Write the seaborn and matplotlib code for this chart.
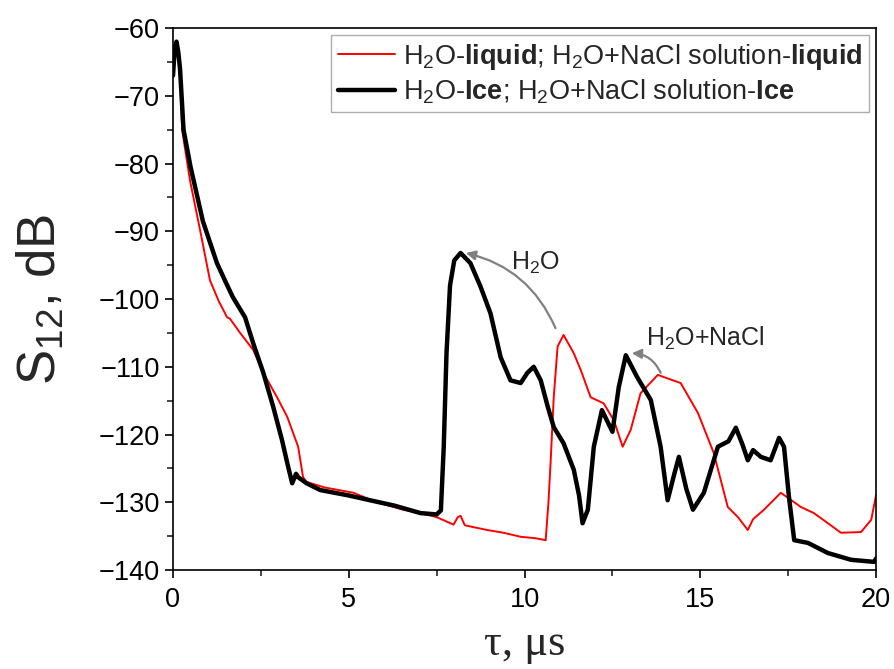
import numpy as np
import pandas as pd
import matplotlib
matplotlib.use('Agg')
import matplotlib.pyplot as plt
import seaborn as sns

# values (tau in us, S12 in dB)
tau_ice = [0, 0.05, 0.1, 0.15, 0.2, 0.3, 0.5, 0.85, 1.25, 1.5, 1.7, 2.05, 2.28, 2.57,
           2.85, 3.1, 3.25, 3.39, 3.5, 3.56, 3.8, 4.19, 5.0, 5.6, 6.3, 7.04, 7.5, 7.62,
           7.7, 7.78, 7.88, 8.0, 8.18, 8.46, 8.75, 9.03, 9.32, 9.6, 9.89, 10.08, 10.26,
           10.46, 10.66, 10.83, 11.11, 11.4, 11.55, 11.65, 11.8, 11.97, 12.2, 12.5,
           12.68, 12.88, 13.2, 13.59, 13.87, 14.07, 14.25, 14.39, 14.6, 14.79, 15.1,
           15.5, 15.8, 16.01, 16.2, 16.35, 16.5, 16.72, 17.0, 17.24, 17.38, 17.52,
           17.67, 18.06, 18.63, 19.29, 19.94, 20.0]
s12_ice = [-67, -63, -62, -63.5, -66, -75, -80.5, -88.5, -94.7, -97.5, -99.7, -102.7,
           -106.5, -110.9, -115.9, -120.8, -124.2, -127.2, -125.8, -126.3, -127.2,
           -128.2, -129, -129.7, -130.5, -131.6, -131.8, -131.2, -122, -108, -98,
           -94.3, -93.2, -94.7, -98.2, -102.1, -108.6, -112, -112.4, -110.9, -110,
           -112, -115.9, -118.9, -121.3, -125.2, -129, -133.1, -131.1, -121.8, -116.4,
           -119.6, -113, -108.3, -111.5, -114.9, -121.8, -129.7, -126, -123.3, -128,
           -131.1, -128.6, -121.8, -121, -119, -121.5, -123.8, -122.3, -123.3, -123.8,
           -120.5, -121.8, -129.2, -135.6, -136, -137.5, -138.5, -138.8, -138.3]

tau_liq = [0, 0.05, 0.1, 0.15, 0.2, 0.26, 0.48, 0.77, 1.05, 1.3, 1.54, 1.62, 1.91,
           2.28, 2.57, 2.96, 3.25, 3.56, 3.7, 3.8, 4.3, 5.13, 5.8, 6.55, 7.04, 7.5,
           7.98, 8.1, 8.18, 8.3, 8.94, 9.4, 9.89, 10.3, 10.6, 10.68, 10.74, 10.83,
           10.94, 11.11, 11.4, 11.6, 11.88, 12.25, 12.54, 12.79, 13.02, 13.3, 13.79,
           14.44, 14.93, 15.38, 15.78, 16.07, 16.35, 16.5, 16.81, 17.29, 17.86, 18.23,
           18.63, 19.0, 19.57, 19.86, 20.0]
s12_liq = [-66, -62.5, -62, -63, -67, -75, -82.4, -89.8, -97.2, -100.3, -102.7,
           -102.9, -105, -107.5, -110.9, -114.5, -117.4, -121.8, -126.3, -127, -127.8,
           -128.6, -130, -131.1, -131.6, -132.2, -133.3, -132.2, -132, -133.4, -134.1,
           -134.5, -135.1, -135.3, -135.6, -130, -124.2, -114.5, -107, -105.3, -108,
           -110.5, -114.5, -115.4, -117.9, -121.8, -119.3, -113.9, -111.2, -112.4,
           -116.8, -122.7, -130.7, -132.2, -134.1, -132.5, -131.1, -128.6, -130.7,
           -131.6, -133.1, -134.5, -134.4, -132.6, -128.9]

label_liq = r'H$_2$O-$\mathbf{liquid}$; H$_2$O+NaCl solution-$\mathbf{liquid}$'
label_ice = r'H$_2$O-$\mathbf{Ice}$; H$_2$O+NaCl solution-$\mathbf{Ice}$'

df_liq = pd.DataFrame({'tau': tau_liq, 's12': s12_liq})
df_ice = pd.DataFrame({'tau': tau_ice, 's12': s12_ice})

sns.set_style("ticks")
plt.rcParams['font.family'] = ['Liberation Sans', 'DejaVu Sans']
plt.rcParams['mathtext.fontset'] = 'custom'
plt.rcParams['mathtext.rm'] = 'Liberation Sans'
plt.rcParams['mathtext.it'] = 'Liberation Sans:italic'
plt.rcParams['mathtext.bf'] = 'Liberation Sans:bold'

fig = plt.figure(figsize=(8.94, 6.69), dpi=100)
ax = fig.add_axes([0.1935, 0.148, 0.7865, 0.81])

sns.lineplot(data=df_liq, x='tau', y='s12', color='#ff0000', lw=1.4,
             label=label_liq, ax=ax, sort=False)
sns.lineplot(data=df_ice, x='tau', y='s12', color='black', lw=3.2,
             label=label_ice, ax=ax, sort=False)

ax.set_xlim(0, 20)
ax.set_ylim(-140, -60)
ax.set_xticks([0, 5, 10, 15, 20])
ax.set_xticks([2.5, 7.5, 12.5, 17.5], minor=True)
ax.set_yticks(np.arange(-140, -59, 10))
ax.set_yticks(np.arange(-135, -60, 10), minor=True)
ax.tick_params(axis='both', which='major', direction='out', length=6, width=1.2,
               labelsize=19.5, colors='black')
ax.tick_params(axis='x', which='major', pad=6)
ax.tick_params(axis='both', which='minor', direction='out', length=4, width=1.2)
for sp in ax.spines.values():
    sp.set_linewidth(1.2)
    sp.set_color('black')

ax.set_yticklabels(['\u2212%d' % abs(v) for v in range(-140, -59, 10)])

ax.set_ylabel(r'S$_{12}$, dB', fontsize=38)
ax.yaxis.set_label_coords(-0.152, 0.5)
ax.set_xlabel('\u03c4, \u03bcs', fontsize=32, family=['Liberation Serif', 'DejaVu Serif'],
              labelpad=8)

# arrows from liquid peak to ice peak
ax.annotate('', xy=(8.33, -93.2), xytext=(10.88, -104.3),
            arrowprops=dict(arrowstyle='-|>', color='#808080', lw=1.6,
                            connectionstyle='arc3,rad=0.25', shrinkA=0, shrinkB=0,
                            mutation_scale=14))
ax.annotate('', xy=(13.05, -108.0), xytext=(13.87, -110.9),
            arrowprops=dict(arrowstyle='-|>', color='#808080', lw=1.6,
                            connectionstyle='arc3,rad=0.3', shrinkA=0, shrinkB=0,
                            mutation_scale=14))
ax.text(9.62, -94.7, r'H$_2$O', fontsize=18, va='center', ha='left')
ax.text(13.45, -105.8, r'H$_2$O+NaCl', fontsize=18, va='center', ha='left')

leg = ax.legend(loc='upper right', fontsize=19.5, frameon=True, fancybox=False,
                edgecolor='#999999', handlelength=2.1, borderaxespad=0.25,
                handletextpad=0.3, labelspacing=0.2, borderpad=0.25)
leg.get_frame().set_linewidth(1.0)

fig.savefig('out.png', dpi=100)
